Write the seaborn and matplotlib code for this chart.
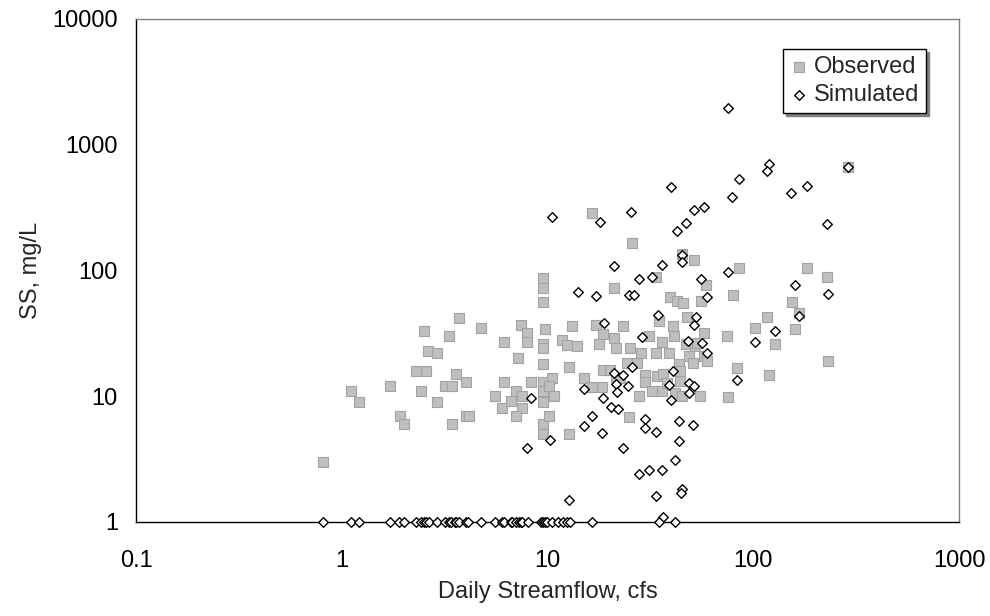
import matplotlib
matplotlib.use("Agg")
import matplotlib.pyplot as plt
import pandas as pd
import seaborn as sns


# Observed suspended sediment vs daily streamflow
obs_flow = [0.81, 1.11, 1.21, 1.71, 1.92, 2.01, 2.30, 2.58, 2.42, 2.51, 2.62, 2.91, 2.91,
            3.32, 3.61, 3.19, 3.43, 4.02, 3.71, 3.42, 4.02, 4.13, 4.73, 6.12, 7.21, 7.43,
            7.91, 7.91, 6.12, 5.53, 6.03, 6.62, 7.03, 7.54, 7.54, 7.03, 8.32,
            9.54, 9.54, 9.54, 9.68, 9.54, 9.54, 9.54, 9.54, 9.54, 9.54, 9.54, 9.54,
            10.5, 10.2, 10.7, 10.2, 12.7, 12.7, 11.8, 12.5, 13.2, 13.9, 15.0, 16.5, 18.4,
            16.5, 17.2, 17.7, 18.6, 18.6, 20.2, 21.0, 21.1, 21.6, 21.6, 22.6, 23.4, 24.4,
            25.0, 25.3, 25.8, 27.2, 27.7, 28.5, 29.7, 29.7, 31.2, 32.2, 33.8, 33.8, 34.1,
            34.7, 36.0, 36.0, 36.3, 38.1, 39.0, 39.5, 40.6, 41.4, 41.8, 42.6, 43.6, 43.9,
            44.2, 45.2, 45.2, 45.4, 46.9, 47.7, 48.7, 50.7, 51.5, 51.9, 53.3, 55.3, 55.8,
            57.4, 57.9, 59.2, 59.6, 74.6, 75.2, 79.9, 82.9, 84.9, 102, 116, 119, 127,
            154, 159, 167, 183, 229, 231, 289]
obs_ss = [3.0, 11, 9.0, 12, 7.0, 6.0, 16, 16, 11, 33, 23, 22, 9.0,
          30, 15, 12, 12, 13, 42, 6.0, 7.0, 7.0, 35, 27, 20, 37,
          32, 27, 13, 10, 8.0, 9.1, 11, 10, 8.0, 7.0, 13,
          87, 73, 56, 34, 26, 24, 18, 13, 11, 9.0, 6.0, 5.0,
          13.9, 12, 10, 7.0, 5.0, 17, 28, 25.5, 36, 25, 13.9, 11.9, 11.9,
          285, 37, 26, 31, 16.2, 16.2, 29, 72, 24.3, 14.3, 14.0, 36, 18.3,
          6.9, 24, 166, 18.3, 10, 22, 14.7, 12.9, 30, 11, 89, 22, 14.5,
          40, 27, 11, 15, 12.8, 22, 61, 36, 30, 10.6, 57.6, 18, 15.8,
          13.3, 135, 10, 55.5, 26, 42.5, 21, 18.3, 121, 25, 26.5, 10, 57.6,
          21, 32, 76, 19, 30, 9.8, 64, 16.9, 104, 35, 43, 14.8, 26,
          56, 34, 45.5, 104, 88, 19, 670]

# Simulated suspended sediment vs daily streamflow
sim_flow = [8.32, 7.91, 10.24, 15.1, 18.6, 21.1, 23.4, 25.8, 21.4, 21.8, 24.6, 20.4, 22.1,
            16.5, 15.1, 18.4, 23.4, 29.7, 29.7, 33.7, 40.5, 39.1, 39.7, 48.7, 51.5, 48.7,
            43.6, 50.7, 43.6, 41.5, 27.9, 31.3, 35.9, 33.8, 45.2, 44.4, 59.6, 12.7, 36.3,
            10.5, 17.9, 25.5, 39.9, 51.5, 57.9, 42.6, 47.1, 79, 21.1, 45.2, 45.2, 36.1,
            27.7, 32.2, 55.8, 14.1, 17.2, 25.0, 26.4, 59.6, 75.5, 34.6, 52.7, 51.5, 18.9,
            28.9, 48.4, 56.1, 75.5, 119, 116, 84.9, 153, 183, 229, 289, 160, 231, 167,
            127, 102, 82.9]
sim_ss = [9.6, 3.9, 4.5, 11.4, 9.7, 15.2, 14.8, 17.2, 12.4, 10.8, 12.1, 8.2, 7.9,
          7.0, 5.8, 5.1, 3.9, 6.6, 5.6, 5.2, 15.8, 12.2, 9.4, 12.7, 12.1, 10.7,
          6.4, 5.9, 4.4, 3.1, 2.4, 2.6, 2.6, 1.6, 1.82, 1.69, 22, 1.5, 1.1,
          268, 244, 294, 459, 301, 322, 207, 240, 384, 109, 133, 117, 110,
          85, 88, 86, 68, 63, 64, 64, 61, 97, 44, 43, 37, 38,
          29.4, 27.7, 26.5, 1946, 703, 618, 530, 410, 470, 233, 670, 76, 65, 43.7,
          33, 27, 13.5]

# simulated days that sit on the 1 mg/L floor
sim_floor_flow = [0.81, 1.11, 1.21, 1.71, 1.90, 2.01, 2.30, 2.42, 2.50, 2.58, 2.64, 2.91,
                  3.17, 3.32, 3.40, 3.54, 3.61, 3.71, 4.02, 4.09, 4.73, 5.53, 6.03, 6.12,
                  6.62, 6.75, 7.03, 7.27, 7.43, 7.54, 8.03, 9.25, 9.54, 9.68, 9.98, 10.5,
                  11.2, 11.9, 12.5, 12.9, 16.5, 34.7, 41.8]
floor_ss = 1.0

x_ticks = [0.1, 1, 10, 100, 1000]
x_tick_labels = ["0.1", "1", "10", "100", "1000"]
y_ticks = [1, 10, 100, 1000, 10000]
y_tick_labels = ["1", "10", "100", "1000", "10000"]

df_obs = pd.DataFrame({"flow": obs_flow, "ss": obs_ss})
df_sim = pd.DataFrame({
    "flow": sim_flow + sim_floor_flow,
    "ss": sim_ss + [floor_ss] * len(sim_floor_flow),
})

sns.set_style("white")
plt.rcParams["font.family"] = ["Liberation Sans", "DejaVu Sans"]

fig, ax = plt.subplots(figsize=(9.9, 6.16), dpi=100)
fig.subplots_adjust(left=0.1374, right=0.9687, top=0.9692, bottom=0.1526)

sns.scatterplot(data=df_obs, x="flow", y="ss", marker="s", s=50, color="#bfbfbf",
                edgecolor="#a3a3a3", linewidth=0.8, label="Observed", ax=ax,
                clip_on=False, zorder=3)
sns.scatterplot(data=df_sim, x="flow", y="ss", marker="D", s=24, color="white",
                edgecolor="black", linewidth=1.0, label="Simulated", ax=ax,
                clip_on=False, zorder=4)

ax.set_xscale("log")
ax.set_yscale("log")
ax.set_xlim(0.1, 1000)
ax.set_ylim(1, 10000)
ax.set_xticks(x_ticks)
ax.set_xticklabels(x_tick_labels)
ax.set_yticks(y_ticks)
ax.set_yticklabels(y_tick_labels)
ax.minorticks_off()

for side in ["left", "bottom"]:
    ax.spines[side].set_color("black")
    ax.spines[side].set_linewidth(1.0)
for side in ["top", "right"]:
    ax.spines[side].set_color("#808080")
    ax.spines[side].set_linewidth(1.0)

ax.tick_params(axis="x", direction="out", length=6, width=1, pad=14, labelsize=17,
               colors="black")
ax.tick_params(axis="y", direction="out", length=6, width=1, pad=7, labelsize=17,
               colors="black")

ax.set_xlabel("Daily Streamflow, cfs", fontsize=17)
ax.set_ylabel("SS, mg/L", fontsize=17)
ax.xaxis.set_label_coords(0.5, -0.14)
ax.xaxis.label.set_va("center")
ax.yaxis.set_label_coords(-0.128, 0.5)
ax.yaxis.label.set_va("center")

leg = ax.legend(loc="upper right", bbox_to_anchor=(0.96, 0.94), frameon=True,
                fancybox=False, shadow={"facecolor": "0.5", "edgecolor": "0.5", "alpha": 1},
                edgecolor="black", fontsize=17, handletextpad=0.2, borderpad=0.3,
                labelspacing=0.25, handlelength=0.8, borderaxespad=0)
leg.get_frame().set_linewidth(1.0)

fig.savefig("out.png", dpi=100)
